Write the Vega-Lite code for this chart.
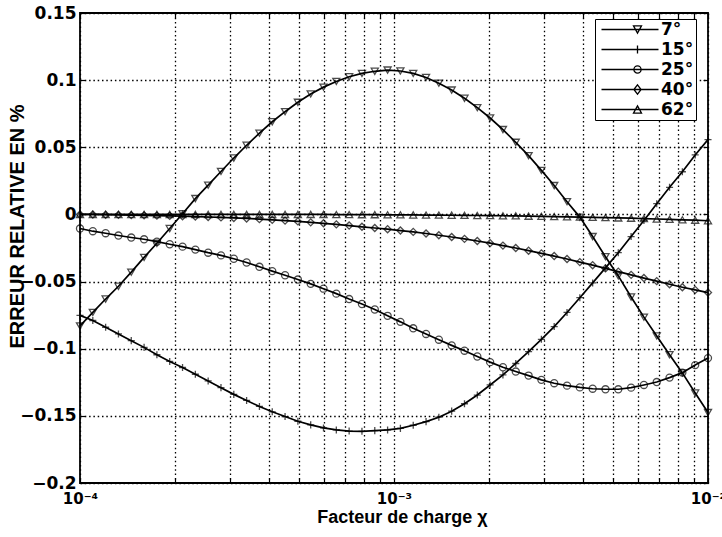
{
  "$schema": "https://vega.github.io/schema/vega-lite/v6.json",
  "width": 628,
  "height": 470,
  "autosize": {"type": "none"},
  "padding": {"left": 80, "top": 13, "right": 14, "bottom": 54},
  "background": "white",
  "config": {
    "view": {"stroke": "black", "strokeWidth": 1.8},
    "font": "Liberation Sans",
    "axis": {"labelFont": "DejaVu Sans", "titleFont": "Liberation Sans", "labelColor": "black", "titleColor": "black", "labelFontWeight": "bold", "titleFontWeight": "bold"}
  },
  "data": {"values": [
{"x":0.0001,"s":"7°","y":-0.083},{"x":0.00010985,"s":"7°","y":-0.073},{"x":0.00012068,"s":"7°","y":-0.063},{"x":0.00013257,"s":"7°","y":-0.0535},{"x":0.00014563,"s":"7°","y":-0.043},{"x":0.00015999,"s":"7°","y":-0.032},{"x":0.00017575,"s":"7°","y":-0.0215},{"x":0.00019307,"s":"7°","y":-0.0105},{"x":0.0002121,"s":"7°","y":0.0005},{"x":0.000233,"s":"7°","y":0.0118},
{"x":0.00025595,"s":"7°","y":0.0218},{"x":0.00028118,"s":"7°","y":0.032},{"x":0.00030888,"s":"7°","y":0.042},{"x":0.00033932,"s":"7°","y":0.0515},{"x":0.00037276,"s":"7°","y":0.0605},{"x":0.00040949,"s":"7°","y":0.069},{"x":0.00044984,"s":"7°","y":0.0765},{"x":0.00049417,"s":"7°","y":0.0835},{"x":0.00054287,"s":"7°","y":0.0897},{"x":0.00059636,"s":"7°","y":0.0948},
{"x":0.00065513,"s":"7°","y":0.099},{"x":0.00071969,"s":"7°","y":0.1025},{"x":0.0007906,"s":"7°","y":0.105},{"x":0.00086851,"s":"7°","y":0.1066},{"x":0.0009541,"s":"7°","y":0.1075},{"x":0.0010481,"s":"7°","y":0.1068},{"x":0.0011514,"s":"7°","y":0.105},{"x":0.0012649,"s":"7°","y":0.102},{"x":0.0013895,"s":"7°","y":0.0977},{"x":0.0015264,"s":"7°","y":0.0926},
{"x":0.0016768,"s":"7°","y":0.0865},{"x":0.0018421,"s":"7°","y":0.0795},{"x":0.0020236,"s":"7°","y":0.0718},{"x":0.002223,"s":"7°","y":0.0632},{"x":0.0024421,"s":"7°","y":0.0537},{"x":0.0026827,"s":"7°","y":0.0438},{"x":0.0029471,"s":"7°","y":0.0328},{"x":0.0032375,"s":"7°","y":0.0215},{"x":0.0035565,"s":"7°","y":0.0095},{"x":0.0039069,"s":"7°","y":-0.002},
{"x":0.0042919,"s":"7°","y":-0.0165},{"x":0.0047149,"s":"7°","y":-0.0315},{"x":0.0051795,"s":"7°","y":-0.0458},{"x":0.0056899,"s":"7°","y":-0.0615},{"x":0.0062506,"s":"7°","y":-0.0765},{"x":0.0068665,"s":"7°","y":-0.0905},{"x":0.0075431,"s":"7°","y":-0.1045},{"x":0.0082864,"s":"7°","y":-0.118},{"x":0.009103,"s":"7°","y":-0.133},{"x":0.01,"s":"7°","y":-0.1475},
{"x":0.0001,"s":"15°","y":-0.0752},{"x":0.00010985,"s":"15°","y":-0.079},{"x":0.00012068,"s":"15°","y":-0.084},{"x":0.00013257,"s":"15°","y":-0.089},{"x":0.00014563,"s":"15°","y":-0.094},{"x":0.00015999,"s":"15°","y":-0.099},{"x":0.00017575,"s":"15°","y":-0.1045},{"x":0.00019307,"s":"15°","y":-0.1095},{"x":0.0002121,"s":"15°","y":-0.114},{"x":0.000233,"s":"15°","y":-0.119},
{"x":0.00025595,"s":"15°","y":-0.124},{"x":0.00028118,"s":"15°","y":-0.129},{"x":0.00030888,"s":"15°","y":-0.134},{"x":0.00033932,"s":"15°","y":-0.1385},{"x":0.00037276,"s":"15°","y":-0.143},{"x":0.00040949,"s":"15°","y":-0.147},{"x":0.00044984,"s":"15°","y":-0.1505},{"x":0.00049417,"s":"15°","y":-0.154},{"x":0.00054287,"s":"15°","y":-0.1567},{"x":0.00059636,"s":"15°","y":-0.159},
{"x":0.00065513,"s":"15°","y":-0.1605},{"x":0.00071969,"s":"15°","y":-0.1613},{"x":0.0007906,"s":"15°","y":-0.1615},{"x":0.00086851,"s":"15°","y":-0.161},{"x":0.0009541,"s":"15°","y":-0.1605},{"x":0.0010481,"s":"15°","y":-0.1593},{"x":0.0011514,"s":"15°","y":-0.157},{"x":0.0012649,"s":"15°","y":-0.1543},{"x":0.0013895,"s":"15°","y":-0.151},{"x":0.0015264,"s":"15°","y":-0.1465},
{"x":0.0016768,"s":"15°","y":-0.141},{"x":0.0018421,"s":"15°","y":-0.1345},{"x":0.0020236,"s":"15°","y":-0.127},{"x":0.002223,"s":"15°","y":-0.1195},{"x":0.0024421,"s":"15°","y":-0.111},{"x":0.0026827,"s":"15°","y":-0.1022},{"x":0.0029471,"s":"15°","y":-0.093},{"x":0.0032375,"s":"15°","y":-0.0835},{"x":0.0035565,"s":"15°","y":-0.073},{"x":0.0039069,"s":"15°","y":-0.062},
{"x":0.0042919,"s":"15°","y":-0.051},{"x":0.0047149,"s":"15°","y":-0.0398},{"x":0.0051795,"s":"15°","y":-0.0285},{"x":0.0056899,"s":"15°","y":-0.0165},{"x":0.0062506,"s":"15°","y":-0.0045},{"x":0.0068665,"s":"15°","y":0.008},{"x":0.0075431,"s":"15°","y":0.0202},{"x":0.0082864,"s":"15°","y":0.0318},{"x":0.009103,"s":"15°","y":0.0443},{"x":0.01,"s":"15°","y":0.0557},
{"x":0.0001,"s":"25°","y":-0.0105},{"x":0.00010985,"s":"25°","y":-0.0125},{"x":0.00012068,"s":"25°","y":-0.014},{"x":0.00013257,"s":"25°","y":-0.0157},{"x":0.00014563,"s":"25°","y":-0.0172},{"x":0.00015999,"s":"25°","y":-0.0185},{"x":0.00017575,"s":"25°","y":-0.0203},{"x":0.00019307,"s":"25°","y":-0.0222},{"x":0.0002121,"s":"25°","y":-0.024},{"x":0.000233,"s":"25°","y":-0.0262},
{"x":0.00025595,"s":"25°","y":-0.0285},{"x":0.00028118,"s":"25°","y":-0.0305},{"x":0.00030888,"s":"25°","y":-0.033},{"x":0.00033932,"s":"25°","y":-0.0358},{"x":0.00037276,"s":"25°","y":-0.039},{"x":0.00040949,"s":"25°","y":-0.0422},{"x":0.00044984,"s":"25°","y":-0.0453},{"x":0.00049417,"s":"25°","y":-0.0485},{"x":0.00054287,"s":"25°","y":-0.0517},{"x":0.00059636,"s":"25°","y":-0.0553},
{"x":0.00065513,"s":"25°","y":-0.059},{"x":0.00071969,"s":"25°","y":-0.063},{"x":0.0007906,"s":"25°","y":-0.0667},{"x":0.00086851,"s":"25°","y":-0.0708},{"x":0.0009541,"s":"25°","y":-0.0755},{"x":0.0010481,"s":"25°","y":-0.08},{"x":0.0011514,"s":"25°","y":-0.0848},{"x":0.0012649,"s":"25°","y":-0.089},{"x":0.0013895,"s":"25°","y":-0.0933},{"x":0.0015264,"s":"25°","y":-0.0975},
{"x":0.0016768,"s":"25°","y":-0.1015},{"x":0.0018421,"s":"25°","y":-0.1058},{"x":0.0020236,"s":"25°","y":-0.11},{"x":0.002223,"s":"25°","y":-0.1138},{"x":0.0024421,"s":"25°","y":-0.117},{"x":0.0026827,"s":"25°","y":-0.12},{"x":0.0029471,"s":"25°","y":-0.1232},{"x":0.0032375,"s":"25°","y":-0.1257},{"x":0.0035565,"s":"25°","y":-0.1275},{"x":0.0039069,"s":"25°","y":-0.1288},
{"x":0.0042919,"s":"25°","y":-0.1298},{"x":0.0047149,"s":"25°","y":-0.1302},{"x":0.0051795,"s":"25°","y":-0.1302},{"x":0.0056899,"s":"25°","y":-0.129},{"x":0.0062506,"s":"25°","y":-0.127},{"x":0.0068665,"s":"25°","y":-0.1248},{"x":0.0075431,"s":"25°","y":-0.1215},{"x":0.0082864,"s":"25°","y":-0.1178},{"x":0.009103,"s":"25°","y":-0.1122},{"x":0.01,"s":"25°","y":-0.107},
{"x":0.0001,"s":"40°","y":0},{"x":0.00010985,"s":"40°","y":0},{"x":0.00012068,"s":"40°","y":-0.0002},{"x":0.00013257,"s":"40°","y":-0.0003},{"x":0.00014563,"s":"40°","y":-0.0005},{"x":0.00015999,"s":"40°","y":-0.0007},{"x":0.00017575,"s":"40°","y":-0.0009},{"x":0.00019307,"s":"40°","y":-0.0011},{"x":0.0002121,"s":"40°","y":-0.0013},{"x":0.000233,"s":"40°","y":-0.0016},
{"x":0.00025595,"s":"40°","y":-0.0019},{"x":0.00028118,"s":"40°","y":-0.0022},{"x":0.00030888,"s":"40°","y":-0.0026},{"x":0.00033932,"s":"40°","y":-0.003},{"x":0.00037276,"s":"40°","y":-0.0035},{"x":0.00040949,"s":"40°","y":-0.004},{"x":0.00044984,"s":"40°","y":-0.0046},{"x":0.00049417,"s":"40°","y":-0.0052},{"x":0.00054287,"s":"40°","y":-0.0059},{"x":0.00059636,"s":"40°","y":-0.0066},
{"x":0.00065513,"s":"40°","y":-0.0074},{"x":0.00071969,"s":"40°","y":-0.0083},{"x":0.0007906,"s":"40°","y":-0.0092},{"x":0.00086851,"s":"40°","y":-0.0101},{"x":0.0009541,"s":"40°","y":-0.011},{"x":0.0010481,"s":"40°","y":-0.012},{"x":0.0011514,"s":"40°","y":-0.013},{"x":0.0012649,"s":"40°","y":-0.0142},{"x":0.0013895,"s":"40°","y":-0.0155},{"x":0.0015264,"s":"40°","y":-0.0168},
{"x":0.0016768,"s":"40°","y":-0.0182},{"x":0.0018421,"s":"40°","y":-0.0198},{"x":0.0020236,"s":"40°","y":-0.0214},{"x":0.002223,"s":"40°","y":-0.0232},{"x":0.0024421,"s":"40°","y":-0.025},{"x":0.0026827,"s":"40°","y":-0.027},{"x":0.0029471,"s":"40°","y":-0.029},{"x":0.0032375,"s":"40°","y":-0.031},{"x":0.0035565,"s":"40°","y":-0.0332},{"x":0.0039069,"s":"40°","y":-0.0355},
{"x":0.0042919,"s":"40°","y":-0.0378},{"x":0.0047149,"s":"40°","y":-0.0402},{"x":0.0051795,"s":"40°","y":-0.0426},{"x":0.0056899,"s":"40°","y":-0.045},{"x":0.0062506,"s":"40°","y":-0.0474},{"x":0.0068665,"s":"40°","y":-0.0497},{"x":0.0075431,"s":"40°","y":-0.052},{"x":0.0082864,"s":"40°","y":-0.0542},{"x":0.009103,"s":"40°","y":-0.0562},{"x":0.01,"s":"40°","y":-0.0582},
{"x":0.0001,"s":"62°","y":0},{"x":0.00010985,"s":"62°","y":0},{"x":0.00012068,"s":"62°","y":0},{"x":0.00013257,"s":"62°","y":0},{"x":0.00014563,"s":"62°","y":0},{"x":0.00015999,"s":"62°","y":0},{"x":0.00017575,"s":"62°","y":0},{"x":0.00019307,"s":"62°","y":0},{"x":0.0002121,"s":"62°","y":0},{"x":0.000233,"s":"62°","y":0},
{"x":0.00025595,"s":"62°","y":0},{"x":0.00028118,"s":"62°","y":0},{"x":0.00030888,"s":"62°","y":0},{"x":0.00033932,"s":"62°","y":0},{"x":0.00037276,"s":"62°","y":0},{"x":0.00040949,"s":"62°","y":0},{"x":0.00044984,"s":"62°","y":0},{"x":0.00049417,"s":"62°","y":0},{"x":0.00054287,"s":"62°","y":0},{"x":0.00059636,"s":"62°","y":0},
{"x":0.00065513,"s":"62°","y":-0.0001},{"x":0.00071969,"s":"62°","y":-0.0001},{"x":0.0007906,"s":"62°","y":-0.0002},{"x":0.00086851,"s":"62°","y":-0.0002},{"x":0.0009541,"s":"62°","y":-0.0003},{"x":0.0010481,"s":"62°","y":-0.0003},{"x":0.0011514,"s":"62°","y":-0.0004},{"x":0.0012649,"s":"62°","y":-0.0005},{"x":0.0013895,"s":"62°","y":-0.0005},{"x":0.0015264,"s":"62°","y":-0.0006},
{"x":0.0016768,"s":"62°","y":-0.0007},{"x":0.0018421,"s":"62°","y":-0.0008},{"x":0.0020236,"s":"62°","y":-0.0009},{"x":0.002223,"s":"62°","y":-0.001},{"x":0.0024421,"s":"62°","y":-0.0011},{"x":0.0026827,"s":"62°","y":-0.0013},{"x":0.0029471,"s":"62°","y":-0.0014},{"x":0.0032375,"s":"62°","y":-0.0016},{"x":0.0035565,"s":"62°","y":-0.0018},{"x":0.0039069,"s":"62°","y":-0.002},
{"x":0.0042919,"s":"62°","y":-0.0022},{"x":0.0047149,"s":"62°","y":-0.0024},{"x":0.0051795,"s":"62°","y":-0.0026},{"x":0.0056899,"s":"62°","y":-0.0028},{"x":0.0062506,"s":"62°","y":-0.0031},{"x":0.0068665,"s":"62°","y":-0.0034},{"x":0.0075431,"s":"62°","y":-0.0037},{"x":0.0082864,"s":"62°","y":-0.004},{"x":0.009103,"s":"62°","y":-0.0043},{"x":0.01,"s":"62°","y":-0.0047}
  ]},
  "resolve": {"scale": {"shape": "independent"}, "axis": {"x": "independent", "y": "independent"}, "legend": {"shape": "independent"}},
  "layer": [
    {
      "mark": {"type": "line", "color": "black", "strokeWidth": 1.7},
      "encoding": {
        "x": {"field": "x", "type": "quantitative",
          "scale": {"type": "log", "domain": [0.0001, 0.01], "nice": false},
          "axis": {"orient": "bottom", "values": [0.0001,0.0002,0.0003,0.0004,0.0005,0.0006,0.0007,0.0008,0.0009,0.001,0.002,0.003,0.004,0.005,0.006,0.007,0.008,0.009,0.01],
            "labelExpr": "datum.value == 0.0001 ? '10⁻⁴' : datum.value == 0.001 ? '10⁻³' : datum.value == 0.01 ? '10⁻²' : ''",
            "labelFontSize": 15, "labelPadding": 13, "tickSize": -5, "tickColor": "black", "tickWidth": 1.2, "domain": false,
            "grid": true, "gridColor": "black", "gridDash": [1.5, 2.8], "gridOpacity": 1, "gridWidth": 1.3,
            "labelFlush": false, "labelOverlap": false,
            "title": "Facteur de charge χ", "titleFontSize": 18, "titlePadding": 2, "titleX": 322}},
        "y": {"field": "y", "type": "quantitative",
          "scale": {"domain": [-0.2, 0.15], "nice": false, "zero": false},
          "axis": {"orient": "left", "values": [-0.2,-0.15,-0.1,-0.05,0,0.05,0.1,0.15],
            "labelExpr": "format(datum.value, '.2~f')",
            "labelFontSize": 17, "labelPadding": 9, "tickSize": -5, "tickColor": "black", "tickWidth": 1.2, "domain": false,
            "grid": true, "gridColor": "black", "gridDash": [1.5, 2.8], "gridOpacity": 1, "gridWidth": 1.3,
            "labelFlush": false, "labelOverlap": false,
            "title": "ERREUR RELATIVE EN %", "titleFontSize": 20, "titlePadding": -8, "titleY": 213}},
        "detail": {"field": "s", "type": "nominal"}
      }
    },
    {
      "mark": {"type": "point", "filled": false, "stroke": "black", "strokeWidth": 1.3, "size": 50},
      "encoding": {
        "x": {"field": "x", "type": "quantitative", "axis": null},
        "y": {"field": "y", "type": "quantitative", "axis": null},
        "shape": {"field": "s", "type": "nominal", "legend": null,
          "scale": {"domain": ["7°","15°","25°","40°","62°"], "range": ["triangle-down", "M-1,0H1M0,-1V1", "circle", "diamond", "triangle-up"]}}
      }
    },
    {
      "transform": [{"filter": "false"}],
      "mark": {"type": "point", "filled": false, "stroke": "black", "strokeWidth": 1.3},
      "encoding": {
        "x": {"field": "x", "type": "quantitative",
          "axis": {"orient": "top", "values": [0.0001,0.0002,0.0003,0.0004,0.0005,0.0006,0.0007,0.0008,0.0009,0.001,0.002,0.003,0.004,0.005,0.006,0.007,0.008,0.009,0.01], "labels": false, "tickSize": -5, "tickColor": "black", "tickWidth": 1.2, "domain": false, "grid": false, "title": null}},
        "y": {"field": "y", "type": "quantitative",
          "axis": {"orient": "right", "values": [-0.2,-0.15,-0.1,-0.05,0,0.05,0.1,0.15], "labels": false, "tickSize": -5, "tickColor": "black", "tickWidth": 1.2, "domain": false, "grid": false, "title": null}},
        "shape": {"field": "s", "type": "nominal",
          "scale": {"domain": ["7°","15°","25°","40°","62°"], "range": [
            "M-1,0H13.25M7,-0.9H9L8,0.9Z",
            "M-1,0H13.25M8,-1V1",
            "M-1,0H13.25M8.9,0A0.9,0.9,0,1,1,7.1,0A0.9,0.9,0,1,1,8.9,0",
            "M-1,0H13.25M8,-1.15L8.9,0L8,1.15L7.1,0Z",
            "M-1,0H13.25M7,0.9H9L8,-0.9Z"]},
          "legend": {"title": null, "orient": "none", "legendX": 515, "legendY": 6,
            "symbolSize": 64, "symbolStrokeColor": "black", "symbolFillColor": "transparent", "symbolStrokeWidth": 1.3, "symbolOpacity": 1,
            "symbolOffset": 0, "labelOffset": 47,
            "labelFont": "DejaVu Sans", "labelFontWeight": "bold", "labelFontSize": 17, "labelColor": "black",
            "strokeColor": "black", "fillColor": "white", "padding": 2, "rowPadding": 2}}
      }
    }
  ]
}
